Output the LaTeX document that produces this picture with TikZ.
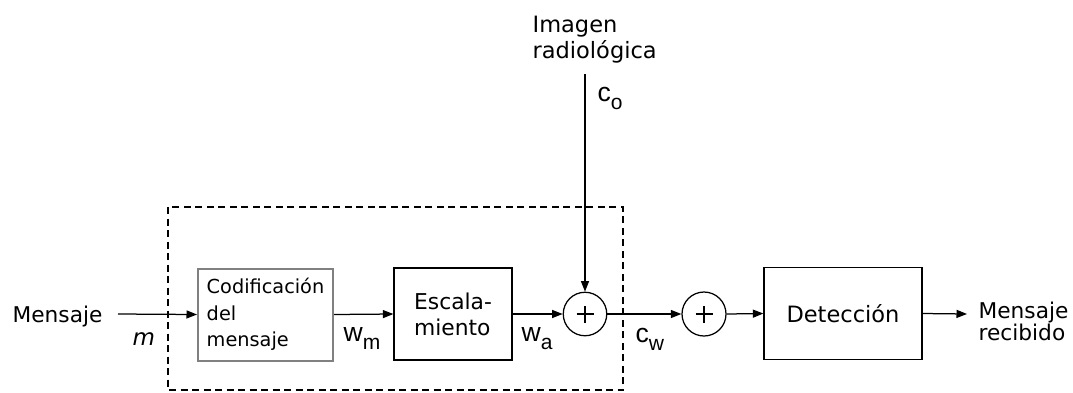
\documentclass[tikz,border=0pt]{standalone}
\usepackage{fontspec}
\setmainfont{DejaVu Sans}
\newfontfamily\lab{Liberation Sans}
\usetikzlibrary{arrows.meta}
% signal label with a lowered subscript
\newcommand\sublab[2]{{\lab\fontsize{26.5}{26.5}\selectfont #1\raisebox{-8pt}{\fontsize{21}{21}\selectfont #2}}}
\begin{document}
\begin{tikzpicture}[x=1pt,y=-1pt,
  line width=1.25pt,
  arr/.style={-{Triangle[length=10.5pt,width=8pt]}},
  blk/.style={draw, minimum height=92pt, inner sep=0pt, align=left},
  sumnode/.style={draw, circle, minimum size=43.5pt, inner sep=0pt,
    path picture={
      \draw[line width=1.1pt] (path picture bounding box.center) +(-8.5pt,0) -- +(8.5pt,0)
            (path picture bounding box.center) +(0,-8.5pt) -- +(0,8.5pt);}},
  txt/.style={inner sep=0pt, align=left},
  group/.style={draw, dash pattern=on 7pt off 4.5pt, line width=1.2pt}]
\useasboundingbox (0,0) rectangle (1073,392);

% blocks of the chain
\node[blk, draw=black!50, line width=2pt, minimum width=135pt,
      font=\fontsize{19.3}{26.5}\selectfont] (cod) at (265.5,314.5)
      {Codificación\\del\\mensaje};
\node[blk, minimum width=118pt, font=\fontsize{21.8}{26}\selectfont] (esc) at (453,314)
      {Escala-\\miento};
\node[sumnode] (s1) at (585,314) {};
\node[sumnode, minimum size=44pt] (s2) at (704,314) {};
\node[blk, minimum width=158pt, font=\fontsize{22.5}{26}\selectfont] (det) at (843,313.5)
      {Detección};

% dashed frame round the embedder
\draw[group] (168,207) rectangle (623,390);

% outer texts
\node[txt, anchor=base west, font=\fontsize{21.7}{21}\selectfont] (msg) at (12,322.5) {Mensaje};
\node[txt, anchor=south west, font=\fontsize{22.5}{26.5}\selectfont] (img) at (532,64)
      {Imagen\\radiológica};
\node[txt, anchor=west, font=\fontsize{21.7}{20.6}\selectfont] (rec) at (978,321)
      {Mensaje\\recibido};

% signal labels
\node[txt, anchor=base west, font=\fontsize{23}{23}\selectfont\itshape] (lm) at (132,345) {m};
\node[txt, anchor=base west] (lwm) at (343,341.5) {\sublab{w}{m}};
\node[txt, anchor=base west] (lwa) at (521,341.5) {\sublab{w}{a}};
\node[txt, anchor=base west] (lco) at (597,101) {\sublab{c}{o}};
\node[txt, anchor=base west] (lcw) at (635,342) {\sublab{c}{w}};

% connectors
\coordinate (mstart) at (118,314);
\coordinate (cotop) at (585,74);
\coordinate (outend) at (967,314);
\draw[arr] (mstart) -- (cod.west);
\draw[arr] (cod.east) -- (esc.west);
\draw[arr] (esc.east) -- (s1.west);
\draw[arr] (cotop) -- (s1.north);
\draw[arr] (s1.east) -- (s2.west);
\draw[arr] (s2.east) -- (det.west);
\draw[arr] (det.east) -- (outend);
\end{tikzpicture}
\end{document}
